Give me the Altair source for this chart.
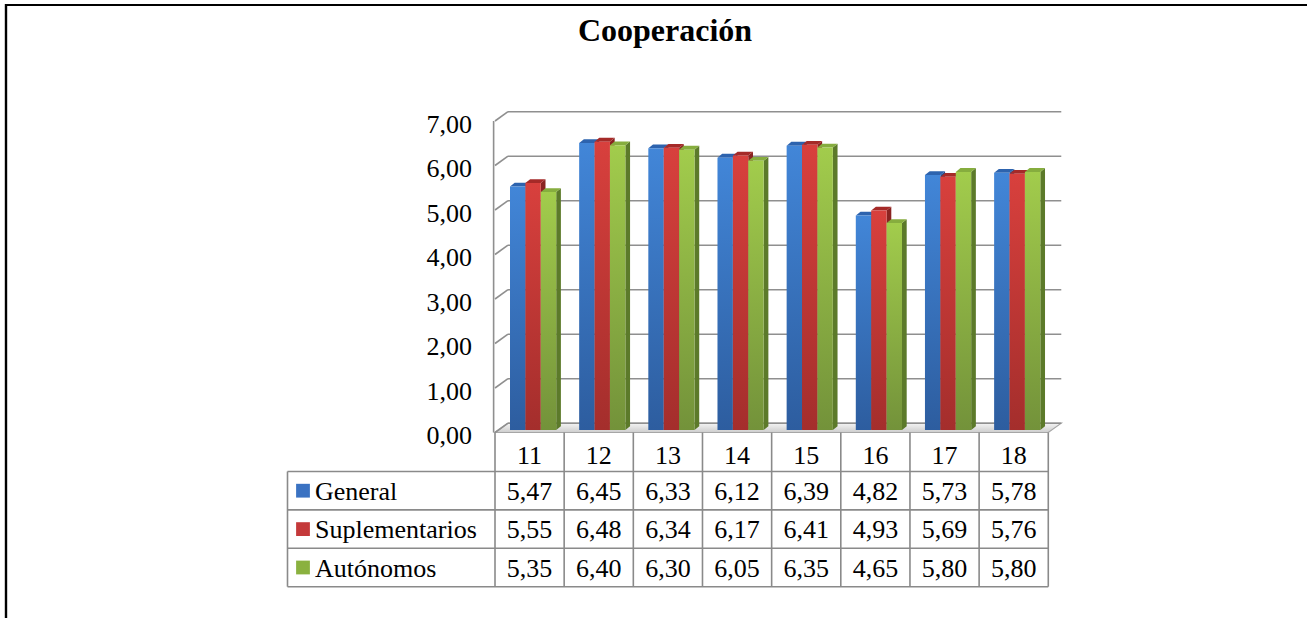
import altair as alt
import pandas as pd

# ---- data -------------------------------------------------------------
categories = ["11", "12", "13", "14", "15", "16", "17", "18"]
series_names = ["General", "Suplementarios", "Autónomos"]
general = [5.47, 6.45, 6.33, 6.12, 6.39, 4.82, 5.73, 5.78]
suplementarios = [5.55, 6.48, 6.34, 6.17, 6.41, 4.93, 5.69, 5.76]
autonomos = [5.35, 6.40, 6.30, 6.05, 6.35, 4.65, 5.80, 5.80]
y_ticks = [0, 1, 2, 3, 4, 5, 6, 7]
title_text = "Cooperación"

series_values = [general, suplementarios, autonomos]

# ---- layout (x unit = one category slot, y unit = one value step) -----
W, H = 1307, 618
PX_X, X0_PX = 69.16, 495.0     # pixels per category, left edge of category 0
PX_Y, Y0_PX = 44.5, 432.5      # pixels per value unit, front floor edge


def sx(px):
    return (px - X0_PX) / PX_X


def sy(px):
    return (Y0_PX - px) / PX_Y


X_DOM = [sx(0), sx(W)]
Y_DOM = [sy(H), sy(0)]
N = len(categories)

WALL_DX, WALL_DY = 13 / PX_X, 9.3 / PX_Y      # depth of the back wall
BAR_DX, BAR_DY = 4.7 / PX_X, 3.8 / PX_Y       # depth of each bar
BAR_OFF, BAR_W = 15 / PX_X, 15.4 / PX_X
BASE = 2.5 / PX_Y
HEAD_H, ROW_H = 39 / PX_Y, 38.4 / PX_Y
LEG_W = (X0_PX - 287.5) / PX_X
TABLE_BOTTOM = -(HEAD_H + len(series_names) * ROW_H)

FONT = "Liberation Serif"
GRID = "#8f8f8f"
LINE = "#8a8a8a"

front_colors = [("#4286d8", "#2d5d9f"), ("#d8403d", "#a42e2c"), ("#a2cc4c", "#73923a")]
side_colors = ["#23508e", "#8a2321", "#5c7a2a"]
top_colors = ["#2d63ae", "#a52a28", "#86ad3e"]
swatch_colors = ["#3a72c2", "#c4393a", "#8ab13f"]

XS = alt.Scale(domain=X_DOM, nice=False, zero=False)
YS = alt.Scale(domain=Y_DOM, nice=False, zero=False)


def X(f):
    return alt.X(f, type="quantitative", scale=XS, axis=None)


def Y(f):
    return alt.Y(f, type="quantitative", scale=YS, axis=None)


def grad(top, bottom):
    return alt.LinearGradient(
        gradient="linear",
        stops=[alt.GradientStop(color=top, offset=0), alt.GradientStop(color=bottom, offset=1)],
        x1=0, x2=0, y1=0, y2=1,
    )


layers = []

# floor
floor_df = pd.DataFrame([
    {"y": 0.0, "xa": 0.0, "xb": float(N)},
    {"y": WALL_DY, "xa": WALL_DX, "xb": N + WALL_DX},
])
layers.append(
    alt.Chart(floor_df).mark_area(
        orient="horizontal", color=grad("#f4f4f4", "#cdcdcd"), stroke="#a6a6a6", strokeWidth=1.2
    ).encode(y=Y("y"), x=X("xa"), x2=alt.X2("xb"))
)

# back-wall gridlines
grid_df = pd.DataFrame({"v": y_ticks})
grid_df["y"] = grid_df["v"] + WALL_DY
grid_df["xa"] = WALL_DX
grid_df["xb"] = N + WALL_DX
layers.append(
    alt.Chart(grid_df).mark_rule(color=GRID, strokeWidth=1.6).encode(
        x=X("xa"), x2=alt.X2("xb"), y=Y("y")
    )
)

# side-wall diagonals
diag_df = pd.DataFrame({"v": y_ticks})
diag_df["y2"] = diag_df["v"] + WALL_DY
diag_df["x"] = 0.0
diag_df["x2"] = WALL_DX
layers.append(
    alt.Chart(diag_df).mark_rule(color=GRID, strokeWidth=1.6).encode(
        x=X("x"), x2=alt.X2("x2"), y=Y("v"), y2=alt.Y2("y2")
    )
)

# vertical value axis line
axis_df = pd.DataFrame([{"x": -0.02, "y": 0.0, "y2": float(max(y_ticks))}])
layers.append(
    alt.Chart(axis_df).mark_rule(color=GRID, strokeWidth=1.6).encode(
        x=X("x"), y=Y("y"), y2=alt.Y2("y2")
    )
)

# data table grid
h_lines = [-HEAD_H - r * ROW_H for r in range(len(series_names) + 1)]
hdf = pd.DataFrame({"y": h_lines, "xa": -LEG_W, "xb": float(N)})
layers.append(
    alt.Chart(hdf).mark_rule(color=LINE, strokeWidth=1.6).encode(
        x=X("xa"), x2=alt.X2("xb"), y=Y("y")
    )
)
vdf = pd.DataFrame(
    [{"x": float(i), "ya": 0.0, "yb": TABLE_BOTTOM} for i in range(N + 1)]
    + [{"x": -LEG_W, "ya": -HEAD_H, "yb": TABLE_BOTTOM}]
)
layers.append(
    alt.Chart(vdf).mark_rule(color=LINE, strokeWidth=1.6).encode(
        x=X("x"), y=Y("ya"), y2=alt.Y2("yb")
    )
)

# 3-D bars: front face, right side, top face per series
for s, vals in enumerate(series_values):
    fronts, sides, tops = [], [], []
    for i, v in enumerate(vals):
        x0 = i + BAR_OFF + s * BAR_W
        x1 = x0 + BAR_W
        y0, y1 = BASE, v + BASE
        key = f"{s}-{i}"
        fronts.append({"x0": x0, "x1": x1, "y0": y0, "y1": y1})
        sides += [
            {"id": key, "xs": x1, "lo": y0, "hi": y1},
            {"id": key, "xs": x1 + BAR_DX, "lo": y0 + BAR_DY, "hi": y1 + BAR_DY},
        ]
        tops += [
            {"id": key, "yy": y1, "xa": x0, "xb": x1},
            {"id": key, "yy": y1 + BAR_DY, "xa": x0 + BAR_DX, "xb": x1 + BAR_DX},
        ]
    layers.append(
        alt.Chart(pd.DataFrame(sides)).mark_area(orient="vertical", color=side_colors[s]).encode(
            x=X("xs"), y=Y("lo"), y2=alt.Y2("hi"), detail="id:N"
        )
    )
    layers.append(
        alt.Chart(pd.DataFrame(tops)).mark_area(orient="horizontal", color=top_colors[s]).encode(
            y=Y("yy"), x=X("xa"), x2=alt.X2("xb"), detail="id:N"
        )
    )
    layers.append(
        alt.Chart(pd.DataFrame(fronts)).mark_rect(color=grad(*front_colors[s])).encode(
            x=X("x0"), x2=alt.X2("x1"), y=Y("y0"), y2=alt.Y2("y1")
        )
    )


def fmt(v):
    return f"{v:.2f}".replace(".", ",")


# value-axis labels
tick_df = pd.DataFrame({"v": y_ticks})
tick_df["label"] = tick_df["v"].map(fmt)
tick_df["x"] = sx(472)
layers.append(
    alt.Chart(tick_df).mark_text(align="right", baseline="middle", dy=3.5, font=FONT, fontSize=26, color="#000").encode(
        x=X("x"), y=Y("v"), text="label:N"
    )
)

# category header row
head_df = pd.DataFrame({"cat": categories, "x": [i + 0.5 for i in range(N)], "y": -HEAD_H / 2})
layers.append(
    alt.Chart(head_df).mark_text(align="center", baseline="middle", dy=4, font=FONT, fontSize=26, color="#000").encode(
        x=X("x"), y=Y("y"), text="cat:N"
    )
)

# table values
cell_recs = []
for r, vals in enumerate(series_values):
    for i, v in enumerate(vals):
        cell_recs.append({"x": i + 0.5, "y": -(HEAD_H + (r + 0.5) * ROW_H), "label": fmt(v)})
layers.append(
    alt.Chart(pd.DataFrame(cell_recs)).mark_text(align="center", baseline="middle", dy=1, font=FONT, fontSize=26, color="#000").encode(
        x=X("x"), y=Y("y"), text="label:N"
    )
)

# legend column: swatches and series names
leg_df = pd.DataFrame({
    "name": series_names,
    "y": [-(HEAD_H + (r + 0.5) * ROW_H) for r in range(len(series_names))],
})
leg_df["xs"] = sx(303)
leg_df["xt"] = sx(315)
layers.append(
    alt.Chart(leg_df).mark_square(size=190, opacity=1).encode(
        x=X("xs"), y=Y("y"),
        color=alt.Color("name:N", scale=alt.Scale(domain=series_names, range=swatch_colors), legend=None),
    )
)
layers.append(
    alt.Chart(leg_df).mark_text(align="left", baseline="middle", dy=1, font=FONT, fontSize=26, color="#000").encode(
        x=X("xt"), y=Y("y"), text="name:N"
    )
)

# title
title_df = pd.DataFrame([{"t": title_text, "x": sx(665), "y": sy(40.5)}])
layers.append(
    alt.Chart(title_df).mark_text(align="center", baseline="alphabetic", font=FONT, fontSize=32, fontWeight="bold", color="#000").encode(
        x=X("x"), y=Y("y"), text="t:N"
    )
)

# outer frame (left and top edges)
frame_df = pd.DataFrame([{"k": 0}])
layers.append(
    alt.Chart(frame_df).mark_rule(color="#000", strokeWidth=2.4).encode(
        x=alt.value(6), y=alt.value(4), y2=alt.value(H)
    )
)
layers.append(
    alt.Chart(frame_df).mark_rule(color="#000", strokeWidth=2.2).encode(
        x=alt.value(5), x2=alt.value(W), y=alt.value(5)
    )
)

chart = (
    alt.layer(*layers)
    .properties(width=W, height=H, autosize=alt.AutoSizeParams(type="none"), padding=0, background="#ffffff")
    .configure_view(stroke=None)
)

chart.save("out.html", embed_options={"renderer": "svg", "actions": False})
